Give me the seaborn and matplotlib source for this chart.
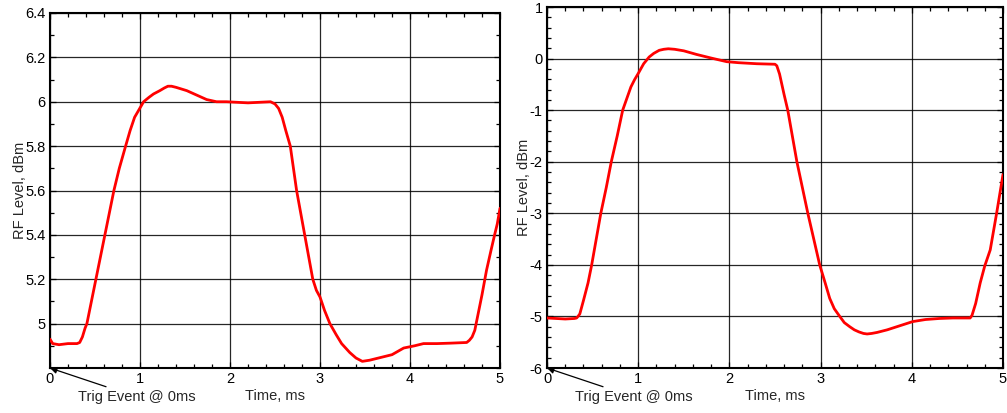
import numpy as np
import pandas as pd
import matplotlib
matplotlib.use("Agg")
import matplotlib.pyplot as plt
from matplotlib.ticker import MultipleLocator, FormatStrFormatter
import seaborn as sns

# ---- data ----
left_t = [0, 0.03, 0.1, 0.2, 0.3, 0.33, 0.36, 0.39, 0.41, 0.46, 0.51, 0.56, 0.61,
          0.66, 0.71, 0.77, 0.84, 0.89, 0.94, 0.99, 1.04, 1.1, 1.15, 1.22, 1.27,
          1.31, 1.35, 1.4, 1.52, 1.63, 1.74, 1.85, 1.96, 2.2, 2.45, 2.5, 2.54,
          2.58, 2.62, 2.67, 2.74, 2.83, 2.92, 2.96, 3.0, 3.05, 3.11, 3.18, 3.24,
          3.33, 3.4, 3.47, 3.55, 3.7, 3.8, 3.93, 4.05, 4.15, 4.3, 4.45, 4.63,
          4.66, 4.69, 4.72, 4.74, 4.8, 4.85, 4.9, 4.94, 4.97, 5.0]
left_v = [4.93, 4.91, 4.905, 4.91, 4.91, 4.915, 4.94, 4.98, 5.0, 5.1, 5.2, 5.3, 5.4,
          5.5, 5.6, 5.7, 5.8, 5.87, 5.93, 5.965, 6.0, 6.02, 6.035, 6.05, 6.062,
          6.07, 6.07, 6.065, 6.05, 6.03, 6.01, 6.0, 6.0, 5.995, 6.0, 5.99, 5.97,
          5.93, 5.87, 5.8, 5.6, 5.4, 5.2, 5.15, 5.12, 5.06, 5.0, 4.95, 4.91,
          4.87, 4.845, 4.83, 4.835, 4.85, 4.86, 4.89, 4.9, 4.91, 4.91, 4.912, 4.915,
          4.925, 4.94, 4.97, 5.01, 5.13, 5.24, 5.33, 5.4, 5.45, 5.52]

right_t = [0, 0.1, 0.2, 0.3, 0.325, 0.34, 0.36, 0.4, 0.45, 0.49, 0.54, 0.59, 0.65,
           0.705, 0.77, 0.83, 0.88, 0.92, 0.96, 1.0, 1.06, 1.12, 1.17, 1.23,
           1.28, 1.33, 1.4, 1.5, 1.64, 1.8, 1.97, 2.1, 2.3, 2.5, 2.52, 2.55, 2.6,
           2.64, 2.74, 2.86, 2.99, 3.05, 3.1, 3.15, 3.21, 3.26, 3.32, 3.37, 3.42,
           3.47, 3.51, 3.56, 3.62, 3.73, 3.87, 4.01, 4.15, 4.3, 4.45, 4.64, 4.66,
           4.7, 4.75, 4.8, 4.86, 4.93, 5.0]
right_v = [-5.03, -5.04, -5.05, -5.04, -5.03, -5.0, -4.95, -4.69, -4.35, -4.0, -3.5,
           -3.0, -2.5, -2.0, -1.5, -1.0, -0.75, -0.55, -0.41, -0.29, -0.1, 0.03,
           0.1, 0.16, 0.18, 0.19, 0.18, 0.15, 0.08, 0.01, -0.06, -0.08, -0.1,
           -0.11, -0.14, -0.3, -0.7, -1.0, -2.0, -3.0, -4.0, -4.35, -4.65, -4.85,
           -5.0, -5.12, -5.2, -5.26, -5.3, -5.33, -5.34, -5.33, -5.31, -5.26,
           -5.18, -5.1, -5.06, -5.04, -5.03, -5.03, -4.98, -4.75, -4.35, -4.02,
           -3.71, -3.0, -2.25]

x_label = "Time, ms"
y_label = "RF Level, dBm"
annot_text = "Trig Event @ 0ms"
left_yticks = [5.0, 5.2, 5.4, 5.6, 5.8, 6.0, 6.2, 6.4]
right_yticks = [-6, -5, -4, -3, -2, -1, 0, 1]

sns.set_theme(style="ticks")
plt.rcParams["font.family"] = ["Liberation Sans", "DejaVu Sans"]
plt.rcParams["font.size"] = 10.5

fig = plt.figure(figsize=(10.07, 4.13), dpi=100)
ax1 = fig.add_axes([50 / 1007, 1 - 368 / 413, 450 / 1007, 355 / 413])
ax2 = fig.add_axes([547 / 1007, 1 - 368 / 413, 456 / 1007, 361 / 413])

df1 = pd.DataFrame({"t": left_t, "v": left_v})
df2 = pd.DataFrame({"t": right_t, "v": right_v})

specs = [
    (ax1, df1, (4.8, 6.4), left_yticks, 0.1),
    (ax2, df2, (-6, 1), right_yticks, 0.2),
]

for ax, df, ylim, yticks, ymin in specs:
    sns.lineplot(data=df, x="t", y="v", ax=ax, color="#ff0000", linewidth=2.0,
                 zorder=3)
    ax.set_xlim(0, 5)
    ax.set_ylim(*ylim)
    ax.xaxis.set_major_locator(MultipleLocator(1))
    ax.xaxis.set_minor_locator(MultipleLocator(0.2))
    ax.set_yticks(yticks)
    ax.yaxis.set_minor_locator(MultipleLocator(ymin))
    ax.yaxis.set_major_formatter(FormatStrFormatter("%g"))
    ax.grid(True, which="major", color="black", linewidth=0.9, alpha=0.85)
    ax.tick_params(which="both", direction="in", top=True, right=True,
                   colors="black", labelsize=10.5, pad=3)
    ax.tick_params(which="major", length=4, width=0.9)
    ax.tick_params(which="minor", length=3, width=0.9)
    for s in ax.spines.values():
        s.set_visible(True)
        s.set_color("black")
        s.set_linewidth(1.5)
    ax.set_xlabel(x_label, fontsize=10.5, labelpad=2)
    ax.set_ylabel(y_label, fontsize=10.5, labelpad=-1)
    ax.annotate(annot_text, xy=(0, ylim[0]), xycoords="data",
                xytext=(28, -29), textcoords="offset pixels",
                ha="left", va="center", fontsize=10.5,
                arrowprops=dict(arrowstyle="-|>", color="black", lw=0.9,
                                mutation_scale=10, shrinkA=0, shrinkB=0),
                annotation_clip=False)
    ax.set_ylim(*ylim)

fig.savefig("out.png", dpi=100)
